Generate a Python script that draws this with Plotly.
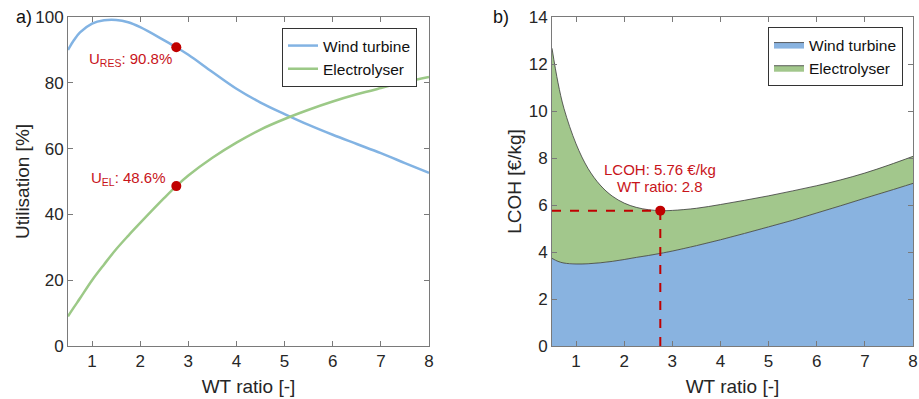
import plotly.graph_objects as go

# ---------------- data ----------------
wt_ratio_a = [0.5, 0.625, 0.75, 1, 1.25, 1.5, 1.75, 2, 2.5, 2.75, 3, 3.5, 4, 4.5, 5, 5.5, 6, 6.5, 7, 7.5, 8]
util_wind = [90, 93.0, 95.3, 98, 99, 99.1, 98.4, 96.9, 92.9, 90.8, 88.5, 83.3, 78.2, 74.0, 70.5, 67.2, 64.2, 61.4, 58.6, 55.6, 52.6]
util_elec = [9, 11.8, 14.5, 20, 24.8, 29.4, 33.5, 37.4, 45.0, 48.6, 51.8, 57.2, 61.8, 65.8, 69.0, 71.8, 74.3, 76.5, 78.4, 80.2, 81.8]

wt_ratio_b = [0.5, 0.625, 0.75, 1, 1.25, 1.5, 1.75, 2, 2.25, 2.5, 2.75, 3, 3.5, 4, 4.5, 5, 5.5, 6, 6.5, 7, 7.5, 8]
lcoh_wind = [3.73, 3.6, 3.53, 3.49, 3.5, 3.54, 3.6, 3.68, 3.77, 3.85, 3.94, 4.04, 4.27, 4.52, 4.79, 5.07, 5.35, 5.66, 5.97, 6.29, 6.6, 6.92]
lcoh_elec = [8.94, 7.6, 6.57, 5.11, 4.05, 3.31, 2.78, 2.40, 2.13, 1.95, 1.82, 1.73, 1.59, 1.50, 1.41, 1.32, 1.25, 1.16, 1.10, 1.07, 1.10, 1.15]

opt_ratio = 2.75
opt_u_res = 90.8
opt_u_el = 48.6
opt_lcoh = 5.76
opt_ratio_label = 2.8

x_ticks = [1, 2, 3, 4, 5, 6, 7, 8]

# ---------------- style ----------------
FONT = "Liberation Sans, Arial, Helvetica, sans-serif"
BLUE_LINE = "#82b3e3"
GREEN_LINE = "#9cc987"
BLUE_FILL = "#89b3e0"
GREEN_FILL = "#a2c78c"
RED = "#c00000"
RED_TXT = "#c8141a"
AXIS = "#7a7a7a"
TXT = "#262626"

W, H = 919, 399
def px_x(p): return p / W
def px_y(p): return 1 - p / H

fig = go.Figure()

# ---- panel a ----
fig.add_trace(go.Scatter(x=wt_ratio_a, y=util_wind, mode="lines", name="Wind turbine",
                         line=dict(color=BLUE_LINE, width=2.5, shape="spline", smoothing=1),
                         xaxis="x", yaxis="y", legend="legend"))
fig.add_trace(go.Scatter(x=wt_ratio_a, y=util_elec, mode="lines", name="Electrolyser",
                         line=dict(color=GREEN_LINE, width=2.5, shape="spline", smoothing=1),
                         xaxis="x", yaxis="y", legend="legend"))
fig.add_trace(go.Scatter(x=[opt_ratio, opt_ratio], y=[opt_u_res, opt_u_el], mode="markers",
                         marker=dict(color=RED, size=10), showlegend=False,
                         xaxis="x", yaxis="y"))

# ---- panel b ----
fig.add_trace(go.Scatter(x=wt_ratio_b, y=lcoh_wind, mode="lines", name="Wind turbine",
                         stackgroup="b", fillcolor=BLUE_FILL,
                         line=dict(color="#3a3a3a", width=0.8, shape="spline", smoothing=1),
                         xaxis="x2", yaxis="y2", legend="legend2"))
fig.add_trace(go.Scatter(x=wt_ratio_b, y=lcoh_elec, mode="lines", name="Electrolyser",
                         stackgroup="b", fillcolor=GREEN_FILL,
                         line=dict(color="#3a3a3a", width=0.8, shape="spline", smoothing=1),
                         xaxis="x2", yaxis="y2", legend="legend2"))
fig.add_trace(go.Scatter(x=[wt_ratio_b[0], opt_ratio], y=[opt_lcoh, opt_lcoh], mode="lines",
                         line=dict(color=RED, width=2, dash="dash"), showlegend=False,
                         xaxis="x2", yaxis="y2"))
fig.add_trace(go.Scatter(x=[opt_ratio, opt_ratio], y=[0, opt_lcoh], mode="lines",
                         line=dict(color=RED, width=2, dash="dash"), showlegend=False,
                         xaxis="x2", yaxis="y2"))
fig.add_trace(go.Scatter(x=[opt_ratio], y=[opt_lcoh], mode="markers",
                         marker=dict(color=RED, size=10), showlegend=False,
                         xaxis="x2", yaxis="y2"))

axis_common = dict(showline=True, linecolor=AXIS, linewidth=1, mirror="ticks",
                   ticks="inside", ticklen=5, tickcolor=AXIS, showgrid=False, zeroline=False,
                   automargin=False,
                   tickfont=dict(family=FONT, size=17, color=TXT))

fig.update_layout(
    width=W, height=H,
    margin=dict(l=0, r=0, t=0, b=0, autoexpand=False),
    paper_bgcolor="white", plot_bgcolor="white",
    font=dict(family=FONT, color=TXT),
    xaxis=dict(domain=[px_x(68), px_x(429)], range=[0.5, 8], tickvals=x_ticks,
               title=dict(text="WT ratio [-]", font=dict(size=19, color=TXT), standoff=9),
               anchor="y", **axis_common),
    yaxis=dict(domain=[px_y(346), px_y(17)], range=[0, 100], dtick=20,
               title=dict(text="Utilisation [%]", font=dict(size=19, color=TXT), standoff=0),
               anchor="x", **axis_common),
    xaxis2=dict(domain=[px_x(552), px_x(913)], range=[0.5, 8], tickvals=x_ticks,
                title=dict(text="WT ratio [-]", font=dict(size=19, color=TXT), standoff=9),
                anchor="y2", **axis_common),
    yaxis2=dict(domain=[px_y(346), px_y(17)], range=[0, 14], dtick=2,
                title=dict(text="LCOH [€/kg]", font=dict(size=19, color=TXT), standoff=2),
                anchor="x2", **axis_common),
    legend=dict(x=px_x(417), y=px_y(28), xanchor="right", yanchor="top",
                bgcolor="white", bordercolor="#333333", borderwidth=1,
                font=dict(family=FONT, size=15.5, color="#111111"), tracegroupgap=0),
    legend2=dict(x=px_x(903), y=px_y(27), xanchor="right", yanchor="top",
                 bgcolor="white", bordercolor="#333333", borderwidth=1, traceorder="normal",
                 font=dict(family=FONT, size=15.5, color="#111111"), tracegroupgap=0),
    showlegend=True,
)

ann_font = dict(family=FONT, size=15, color=RED_TXT)
fig.add_annotation(x=opt_ratio, y=opt_u_res, xref="x", yref="y",
                   text=f"U<sub>RES</sub>: {opt_u_res}%", showarrow=False,
                   xanchor="right", yanchor="middle", xshift=-2, yshift=-12, font=ann_font)
fig.add_annotation(x=opt_ratio, y=opt_u_el, xref="x", yref="y",
                   text=f"U<sub>EL</sub>: {opt_u_el}%", showarrow=False,
                   xanchor="right", yanchor="middle", xshift=-8, yshift=8, font=ann_font)
fig.add_annotation(x=opt_ratio, y=opt_lcoh, xref="x2", yref="y2",
                   text=f"LCOH: {opt_lcoh} €/kg", showarrow=False,
                   xanchor="center", yanchor="middle", yshift=41, font=ann_font)
fig.add_annotation(x=opt_ratio, y=opt_lcoh, xref="x2", yref="y2",
                   text=f"WT ratio: {opt_ratio_label}", showarrow=False,
                   xanchor="center", yanchor="middle", yshift=24, font=ann_font)

fig.add_annotation(x=px_x(14), y=px_y(17), xref="paper", yref="paper", text="a)",
                   showarrow=False, xanchor="left", yanchor="middle",
                   font=dict(family=FONT, size=18, color="#111111"))
fig.add_annotation(x=px_x(491), y=px_y(17), xref="paper", yref="paper", text="b)",
                   showarrow=False, xanchor="left", yanchor="middle",
                   font=dict(family=FONT, size=18, color="#111111"))

fig.write_html("out.html")
